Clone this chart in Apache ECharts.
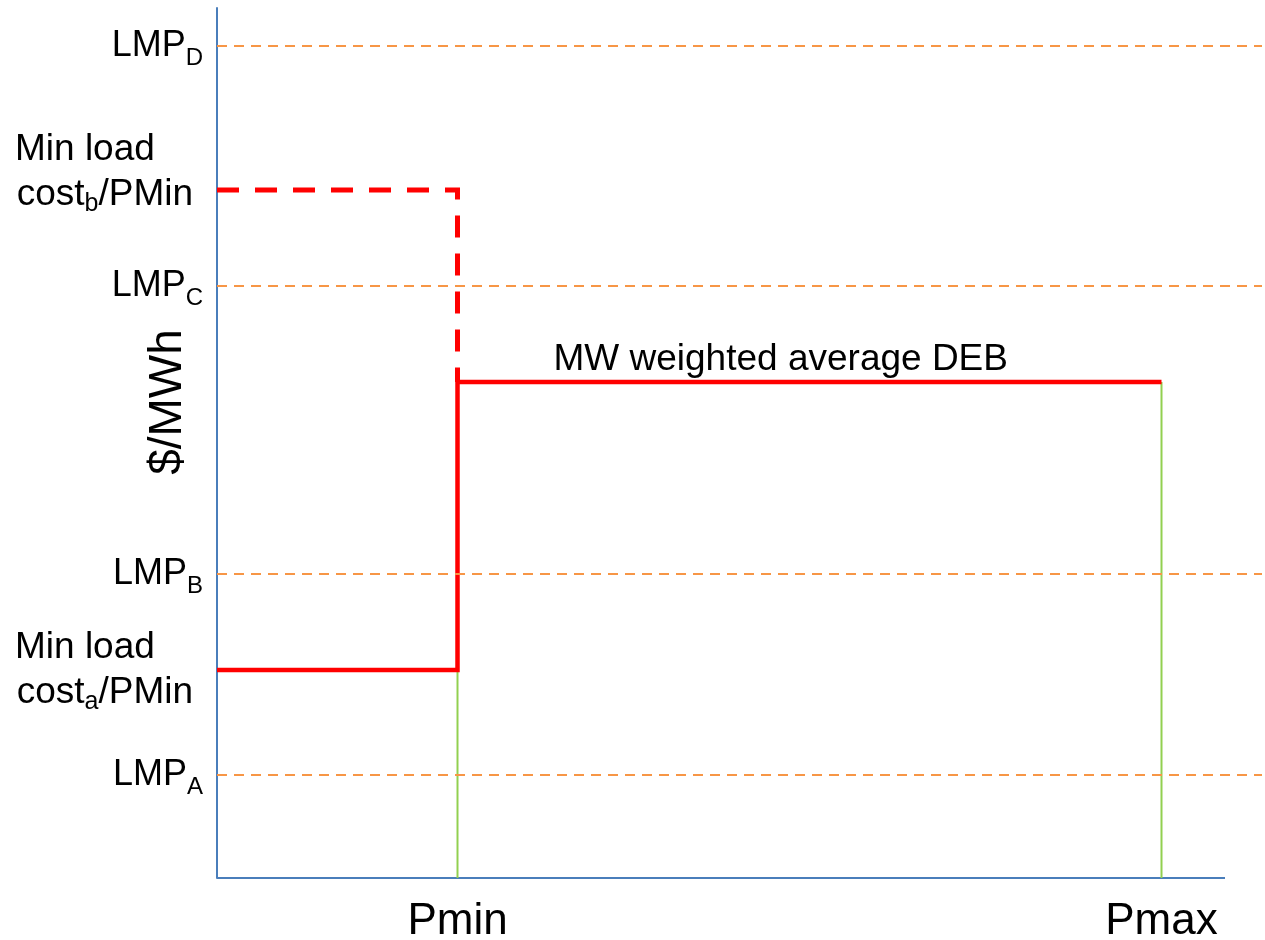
<!DOCTYPE html>
<html><head><meta charset="utf-8">
<script src="https://cdn.jsdelivr.net/npm/echarts@6/dist/echarts.min.js"></script>
<style>html,body{margin:0;padding:0;background:#fff}#c{width:1265px;height:940px}</style>
</head><body><div id="c"></div>
<script>
// ---- data ----
const xTickNames = ['Pmin', 'Pmax'];
const xTickValues = [24.05, 94.45];
const xAxisEnd = 100.8;
const xMax = 104.5;
const yMax = 87;
const lmpNames = ['A', 'B', 'C', 'D'];
const lmpValues = [10.3, 30.4, 59.2, 83.2];
const minLoadNames = ['a', 'b'];
const minLoadValues = [20.8, 68.8];
const debValue = 49.6;
const debLabel = 'MW weighted average DEB';
const yTitle = '$/MWh';

const FONT = 'Liberation Sans, Arial, sans-serif';
const Pmin = xTickValues[0], Pmax = xTickValues[1];

const yLabelValues = lmpValues.concat(minLoadValues).sort((a, b) => a - b);
function yLabel(v) {
  for (let i = 0; i < lmpValues.length; i++) {
    if (Math.abs(v - lmpValues[i]) < 1e-6) return '{m|LMP}{s|' + lmpNames[i] + '}';
  }
  for (let i = 0; i < minLoadValues.length; i++) {
    if (Math.abs(v - minLoadValues[i]) < 1e-6) {
      let str = '{t1|Min load}\n{t|cost}{s2|' + minLoadNames[i] + '}{te|/PMin}';
      if (minLoadNames[i] === 'b') str += '\n{gap| }';
      return str;
    }
  }
  return '';
}
function xLabel(v) {
  for (let i = 0; i < xTickValues.length; i++) if (Math.abs(v - xTickValues[i]) < 1e-6) return xTickNames[i];
  return '';
}

const chart = echarts.init(document.getElementById('c'), null, {renderer: 'canvas'});
chart.setOption({
  animation: false,
  backgroundColor: '#fff',
  grid: {left: 217, right: 3, top: 8, bottom: 62, containLabel: false, outerBoundsMode: 'none'},
  xAxis: {
    type: 'value', min: 0, max: xMax,
    axisLine: {show: false}, axisTick: {show: false}, splitLine: {show: false},
    axisLabel: {
      customValues: xTickValues, formatter: xLabel, margin: 22,
      fontSize: 44, color: '#000', fontFamily: FONT
    }
  },
  yAxis: {
    type: 'value', min: 0, max: yMax,
    name: yTitle, nameLocation: 'middle', nameRotate: 90, nameGap: 26, nameMoveOverlap: false,
    nameTextStyle: {fontSize: 46, color: '#000', fontFamily: FONT, padding: [0, 0, 0, 82]},
    axisLine: {show: true, lineStyle: {color: '#4A7EBB', width: 2}},
    axisTick: {show: false}, splitLine: {show: false},
    axisLabel: {
      customValues: yLabelValues, formatter: yLabel, margin: 14,
      color: '#000', fontFamily: FONT,
      rich: {
        m: {fontSize: 36, lineHeight: 48, fontFamily: FONT, color: '#000'},
        s: {fontSize: 24, lineHeight: 22, verticalAlign: 'bottom', fontFamily: FONT, color: '#000'},
        t1: {fontSize: 37, lineHeight: 45, width: 188, align: 'left', fontFamily: FONT, color: '#000'},
        t: {fontSize: 37, lineHeight: 45, fontFamily: FONT, color: '#000'},
        te: {fontSize: 37, lineHeight: 45, padding: [0, 10, 0, 0], fontFamily: FONT, color: '#000'},
        s2: {fontSize: 25, lineHeight: 20, verticalAlign: 'bottom', fontFamily: FONT, color: '#000'},
        gap: {fontSize: 10, lineHeight: 36}
      }
    }
  },
  series: [
    {
      name: 'lmp', type: 'line', data: [], silent: true,
      markLine: {
        silent: true, symbol: ['none', 'none'], label: {show: false},
        lineStyle: {color: '#F79646', width: 2, type: [10, 7]},
        emphasis: {disabled: true},
        data: lmpValues.map(v => ({yAxis: v}))
      }
    },
    {
      name: 'xaxis', type: 'line', showSymbol: false, silent: true,
      lineStyle: {color: '#4A7EBB', width: 2},
      data: [[0, 0], [xAxisEnd, 0]]
    },
    {
      name: 'g1', type: 'line', showSymbol: false, silent: true,
      lineStyle: {color: '#92D050', width: 2},
      data: [[Pmin, 0], [Pmin, minLoadValues[0]]]
    },
    {
      name: 'g2', type: 'line', showSymbol: false, silent: true,
      lineStyle: {color: '#92D050', width: 2},
      data: [[Pmax, 0], [Pmax, debValue]]
    },
    {
      name: 'redDashed', type: 'line', showSymbol: false, silent: true,
      lineStyle: {color: '#FF0000', width: 5, type: [22, 16], join: 'miter', cap: 'butt'},
      data: [[0, minLoadValues[1]], [Pmin, minLoadValues[1]], [Pmin, debValue]]
    },
    {
      name: 'redSolid', type: 'line', showSymbol: false, silent: true,
      lineStyle: {color: '#FF0000', width: 4.5, join: 'miter'},
      data: [[0, minLoadValues[0]], [Pmin, minLoadValues[0]], [Pmin, debValue], [Pmax, debValue]]
    },
    {
      name: 'debLabel', type: 'scatter', symbolSize: 0, silent: true,
      itemStyle: {opacity: 1},
      data: [[Pmin, debValue]],
      label: {
        show: true, position: 'top', align: 'left', distance: 4, offset: [96, 0],
        formatter: debLabel, fontSize: 37, color: '#000', opacity: 1, fontFamily: FONT
      }
    }
  ]
});
</script>
</body></html>
